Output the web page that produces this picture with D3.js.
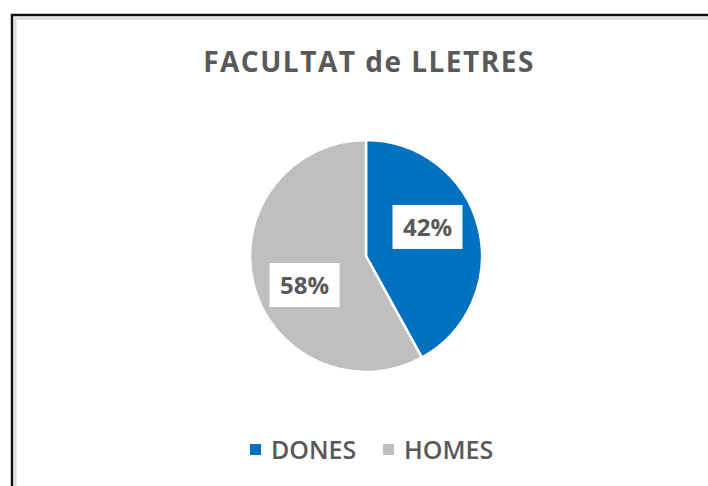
<!DOCTYPE html>
<html lang="en">
<head>
<meta charset="utf-8">
<title>FACULTAT de LLETRES</title>
<script src="https://cdn.jsdelivr.net/npm/d3@7"></script>
<style>
  body { margin: 0; background: #fff; }
  text { font-family: "Open Sans", sans-serif; fill: #595959; }
</style>
</head>
<body>
<script>
// data
var categories = ["DONES", "HOMES"];
var values = [42, 58];
var colors = ["#0070C0", "#BFBFBF"];
var title = "FACULTAT de LLETRES";

var w = 708, h = 486;
var cx = 366, cy = 256, r = 116;

var svg = d3.select("body").append("svg")
    .attr("width", w)
    .attr("height", h);

// chart frame (runs off right/bottom edge)
svg.append("rect")
    .attr("x", 12).attr("y", 15)
    .attr("width", w + 20).attr("height", h + 20)
    .attr("fill", "none").attr("stroke", "#111").attr("stroke-width", 2.5);
svg.append("rect")
    .attr("x", 15.5).attr("y", 18.5)
    .attr("width", w + 20).attr("height", h + 20)
    .attr("fill", "none").attr("stroke", "#d4d4d4").attr("stroke-width", 2);

// title
svg.append("text")
    .attr("x", 369).attr("y", 72)
    .attr("text-anchor", "middle")
    .style("font-size", "28px").style("font-weight", "700")
    .style("letter-spacing", "1.5px")
    .text(title);

var pie = d3.pie().sort(null).value(function(d) { return d; });
var arcs = pie(values);

var arc = d3.arc().innerRadius(0).outerRadius(r);

var g = svg.append("g").attr("transform", "translate(" + cx + "," + cy + ")");

g.selectAll("path")
    .data(arcs)
    .enter()
    .append("path")
    .attr("d", arc)
    .attr("fill", function(d, i) { return colors[i]; })
    .attr("stroke", "#fff")
    .attr("stroke-width", 2.5);

// data labels, Excel puts them a bit off the middle angle
var labelR = 68, shift = -0.19;
var lbl = g.selectAll(".lbl")
    .data(arcs)
    .enter()
    .append("g")
    .attr("class", "lbl")
    .attr("transform", function(d) {
        var a = (d.startAngle + d.endAngle) / 2 + shift;
        return "translate(" + (labelR * Math.sin(a)) + "," + (-labelR * Math.cos(a)) + ")";
    });

lbl.append("rect")
    .attr("x", -35).attr("y", -22)
    .attr("width", 70).attr("height", 44)
    .attr("fill", "#fff");

lbl.append("text")
    .attr("text-anchor", "middle")
    .attr("dy", "0.36em")
    .style("font-size", "24px").style("font-weight", "700")
    .text(function(d, i) { return values[i] + "%"; });

// legend
var legendX = [250, 383];
var leg = svg.selectAll(".leg")
    .data(categories)
    .enter()
    .append("g")
    .attr("class", "leg")
    .attr("transform", function(d, i) { return "translate(" + legendX[i] + ",459)"; });

leg.append("rect")
    .attr("x", 0).attr("y", -15)
    .attr("width", 11).attr("height", 11)
    .attr("fill", function(d, i) { return colors[i]; });

leg.append("text")
    .attr("x", 21)
    .style("font-size", "25px").style("font-weight", "600")
    .text(function(d) { return d; });
</script>
</body>
</html>
